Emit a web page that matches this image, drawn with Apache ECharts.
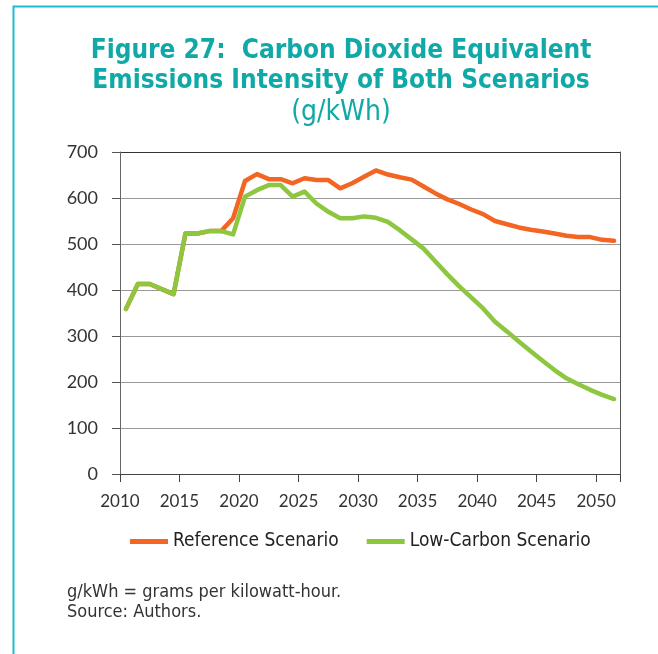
<!DOCTYPE html>
<html>
<head>
<meta charset="utf-8">
<script src="https://cdn.jsdelivr.net/npm/echarts@6/dist/echarts.min.js"></script>
<style>
  html, body { margin: 0; padding: 0; background: #fff; }
  #chart { width: 658px; height: 654px; }
</style>
</head>
<body>
<div id="chart"></div>
<script>
// one point per year, drawn in the middle of each year's band
const years = []
for (let y = 2010; y <= 2051; y++) years.push(String(y))

const referenceScenario = [
  359, 413, 413, 402, 391, 523, 523, 528, 528, 556,
  637, 652, 641, 641, 632, 643, 639, 639, 621, 632,
  646, 660, 651, 645, 640, 625, 610, 597, 587, 575,
  565, 550, 543, 536, 531, 527, 523, 518, 515, 515,
  509, 507
]
const lowCarbonScenario = [
  359, 413, 413, 402, 391, 523, 523, 528, 528, 521,
  603, 617, 628, 628, 603, 614, 588, 570, 556, 556,
  560, 557, 548, 530, 510, 490, 462, 434, 408, 384,
  360, 331, 310, 288, 267, 246, 226, 208, 195, 183,
  172, 163
]
const seriesNames = ['Reference Scenario', 'Low-Carbon Scenario']

const narrow = '"Liberation Sans Narrow", "DejaVu Sans Condensed", sans-serif'
const teal = '#10a9a7'

const chart = echarts.init(document.getElementById('chart'))

let option = {
  animation: false,
  title: [{
    text: 'Figure 27:  Carbon Dioxide Equivalent\nEmissions Intensity of Both Scenarios',
    subtext: '(g/kWh)',
    left: 336,
    textAlign: 'center',
    top: 31,
    itemGap: 3,
    textStyle: {
      fontFamily: narrow,
      fontWeight: 'bold',
      fontSize: 26,
      lineHeight: 30,
      color: teal,
    },
    subtextStyle: {
      fontFamily: narrow,
      fontSize: 28,
      color: teal,
    },
  }, {
    text: 'g/kWh = grams per kilowatt-hour.\nSource: Authors.',
    left: 62,
    top: 577,
    textStyle: {
      fontFamily: narrow,
      fontWeight: 'normal',
      fontSize: 18,
      lineHeight: 20,
      color: '#333',
    },
  }],
  graphic: [{
    type: 'polyline',
    shape: { points: [[13.5, 660], [13.5, 6.5], [665, 6.5]] },
    style: { stroke: '#1dbcd3', lineWidth: 2, fill: null },
  }],
  legend: {
    data: seriesNames,
    left: 125,
    top: 527,
    icon: 'rect',
    itemWidth: 38,
    itemHeight: 5,
    itemGap: 28,
    textStyle: {
      fontFamily: narrow,
      fontSize: 19,
      color: '#222',
    },
  },
  grid: {
    left: 120,
    right: 38,
    top: 152,
    bottom: 180,
  },
  xAxis: {
    type: 'category',
    data: years,
    boundaryGap: true,
    axisLine: {
      lineStyle: { color: '#444', width: 1 },
    },
    axisTick: {
      show: true,
      interval: 4,
      length: 8,
      lineStyle: { color: '#444' },
    },
    axisLabel: {
      interval: 4,
      margin: 19,
      fontFamily: 'Lato',
      fontSize: 17,
      color: '#333',
      // labels sit on the band edges, not the band centres
      padding: [0, 12, 0, 0],
    },
    splitLine: { show: false },
  },
  yAxis: [{
    type: 'value',
    min: 0,
    max: 700,
    interval: 100,
    axisLine: {
      show: true,
      lineStyle: { color: '#666' },
    },
    axisTick: {
      show: true,
      length: 8,
      lineStyle: { color: '#555' },
    },
    axisLabel: {
      margin: 22,
      fontFamily: 'Lato',
      fontSize: 18,
      color: '#333',
    },
    splitLine: {
      show: true,
      lineStyle: {
        color: ['#999', '#999', '#999', '#999', '#999', '#999', '#999', '#333'],
      },
    },
  }, {
    type: 'value',
    position: 'right',
    min: 0,
    max: 700,
    interval: 100,
    axisLine: {
      show: true,
      lineStyle: { color: '#555' },
    },
    axisTick: { show: false },
    axisLabel: { show: false },
    splitLine: { show: false },
  }],
  series: [{
    name: seriesNames[0],
    type: 'line',
    data: referenceScenario,
    showSymbol: false,
    symbol: 'none',
    color: '#f26522',
    lineStyle: { width: 4.5, color: '#f26522', join: 'round', cap: 'round' },
  }, {
    name: seriesNames[1],
    type: 'line',
    data: lowCarbonScenario,
    showSymbol: false,
    symbol: 'none',
    color: '#8dc63f',
    lineStyle: { width: 4.5, color: '#8dc63f', join: 'round', cap: 'round' },
  }],
}

chart.setOption(option)
</script>
</body>
</html>
